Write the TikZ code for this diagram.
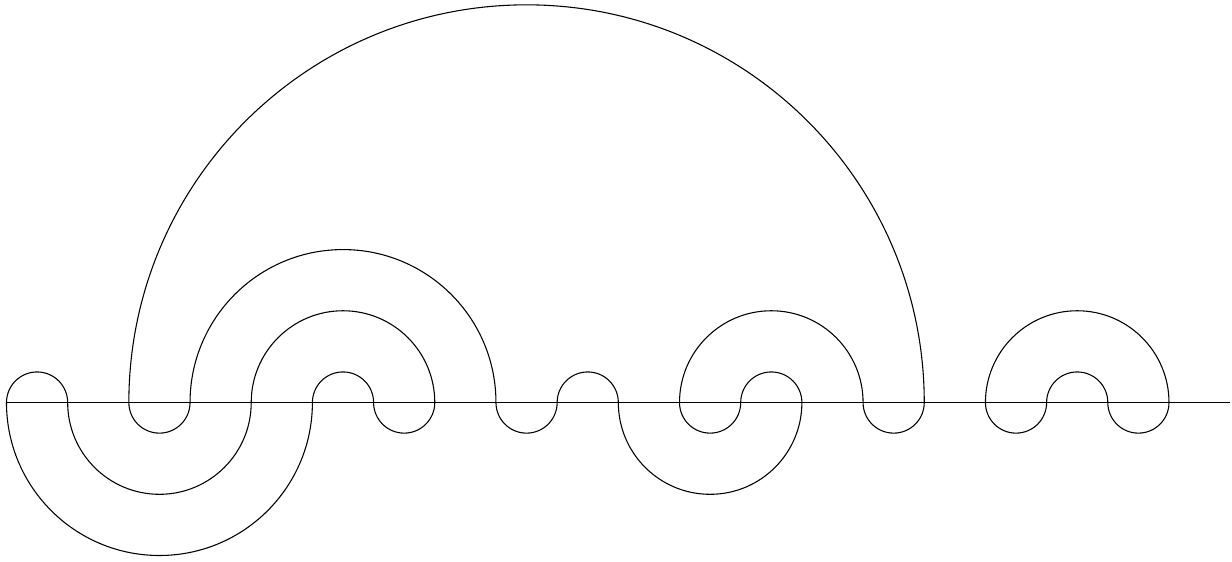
\documentclass[tikz,border=0pt]{standalone}
\usepackage{tikz}

\tikzset{meander/.style={line width=0.5pt}}

\begin{document}
\begin{tikzpicture}[meander]
  \useasboundingbox (-0.106, -2.591) rectangle (20.03, 6.579);

  % Axis line
  \draw (0, 0) coordinate (start) -- (20, 0) coordinate (stop);

  % Arcs above the line (left end / right end)
  \foreach \a/\b in {0/1, 2/15, 3/8, 4/7, 5/6, 9/10, 11/14, 12/13, 16/19, 17/18}
    \draw (\a, 0) arc[start angle=180, end angle=0, radius={(\b-\a)/2}];

  % Arcs below the line
  \foreach \a/\b in {0/5, 1/4, 2/3, 6/7, 8/9, 10/13, 11/12, 14/15, 16/17, 18/19}
    \draw (\a, 0) arc[start angle=180, end angle=360, radius={(\b-\a)/2}];
\end{tikzpicture}
\end{document}
